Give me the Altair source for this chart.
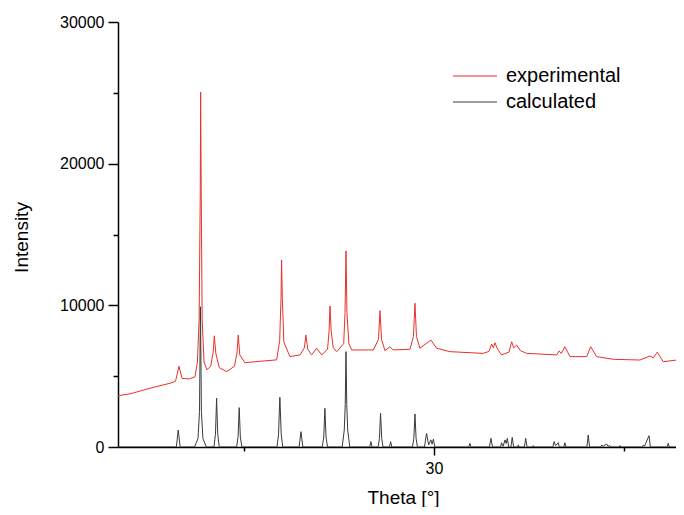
import altair as alt
import pandas as pd

# ---- experimental pattern (vertices) ----
exp_theta = [13.37, 14.0, 15.05, 16.11, 16.40, 16.58, 16.74, 17.10, 17.42, 17.55,
             17.64, 17.70, 17.72, 17.75, 17.80, 17.90, 18.05, 18.25, 18.38, 18.44,
             18.52, 18.70, 19.09, 19.50, 19.63, 19.70, 19.78, 20.05, 20.84, 21.72,
             21.88, 21.95, 21.98, 22.02, 22.10, 22.42, 22.95, 23.18, 23.26, 23.36,
             23.56, 23.83, 24.09, 24.40, 24.48, 24.53, 24.59, 24.70, 24.88, 25.25,
             25.32, 25.37, 25.42, 25.52, 25.67, 26.81, 27.08, 27.16, 27.24, 27.42,
             27.68, 27.85, 28.74, 28.92, 29.00, 29.08, 29.26, 29.84, 30.14, 30.84,
             32.59, 32.90, 33.04, 33.13, 33.21, 33.35, 33.56, 33.95, 34.09, 34.20,
             34.35, 34.55, 34.88, 36.46, 36.59, 36.70, 36.89, 37.16, 38.04, 38.25,
             38.56, 39.44, 40.84, 41.37, 41.55, 41.75, 42.07, 43.10]
exp_intensity = [3620, 3750, 4150, 4500, 4650, 5700, 4850, 4800, 4950, 6000,
                 9000, 18000, 25050, 18000, 9000, 6000, 5450, 5700, 6700, 7850,
                 6600, 5600, 5320, 5700, 6600, 7900, 6500, 5950, 6050, 6150,
                 7500, 10500, 13200, 10500, 7400, 6380, 6500, 7000, 7900, 6900,
                 6500, 6970, 6500, 6900, 8200, 9950, 8200, 7000, 6730, 7300,
                 9500, 13840, 9500, 7300, 6850, 6850, 7600, 9620, 7600, 6800,
                 7080, 6850, 6900, 7800, 10150, 7800, 6970, 7550, 6970, 6730,
                 6610, 6750, 7270, 7000, 7360, 6900, 6500, 6700, 7430, 7000,
                 7200, 6800, 6610, 6500, 6780, 6600, 7080, 6380, 6380, 7080,
                 6380, 6190, 6140, 6420, 6300, 6690, 6020, 6190]

# ---- calculated pattern (vertices) ----
calc_theta = [13.37,
              16.44, 16.54, 16.64,
              17.40, 17.58, 17.66, 17.71, 17.76, 17.84, 18.02,
              18.42, 18.50, 18.56, 18.62, 18.70,
              19.61, 19.69, 19.75, 19.81, 19.89,
              21.74, 21.82, 21.89, 21.96, 22.04,
              22.90, 23.00, 23.10,
              24.12, 24.20, 24.26, 24.32, 24.40,
              25.17, 25.28, 25.33, 25.37, 25.41, 25.46, 25.57,
              26.62, 26.68, 26.74,
              27.06, 27.13, 27.19, 27.25, 27.32,
              27.66, 27.72, 27.78,
              28.87, 28.94, 29.00, 29.06, 29.13,
              29.50, 29.61, 29.72, 29.84, 29.90, 29.97, 30.05,
              31.83, 31.89, 31.95,
              32.92, 33.00, 33.08,
              33.50, 33.56, 33.64, 33.74, 33.80, 33.86, 33.94,
              34.05, 34.12, 34.19,
              34.40, 34.44, 34.48,
              34.76, 34.83, 34.90,
              35.19, 35.23, 35.27,
              36.26, 36.32, 36.40, 36.54, 36.60,
              36.84, 36.89, 36.95,
              38.05, 38.12, 38.19,
              38.78, 38.83, 38.90, 39.09, 39.16, 39.26, 39.32,
              39.75, 39.79, 39.83,
              40.97, 41.02, 41.08, 41.32, 41.39,
              42.27, 42.33, 42.39,
              42.91, 42.95, 42.99,
              43.10]
calc_intensity = [0,
                  0, 1200, 0,
                  0, 600, 2500, 9900, 2500, 600, 0,
                  0, 900, 3440, 900, 0,
                  0, 700, 2780, 700, 0,
                  0, 900, 3510, 900, 0,
                  0, 1080, 0,
                  0, 700, 2730, 700, 0,
                  0, 1200, 3000, 6730, 3000, 1200, 0,
                  0, 380, 0,
                  0, 600, 2380, 600, 0,
                  0, 380, 0,
                  0, 600, 2330, 600, 0,
                  0, 970, 150, 500, 200, 550, 0,
                  0, 260, 0,
                  0, 610, 0,
                  0, 300, 50, 500, 250, 610, 0,
                  0, 680, 0,
                  0, 150, 0,
                  0, 610, 0,
                  0, 100, 0,
                  0, 380, 100, 300, 0,
                  0, 300, 0,
                  0, 850, 0,
                  0, 140, 50, 210, 50, 100, 0,
                  0, 100, 0,
                  0, 140, 50, 800, 0,
                  0, 260, 0,
                  0, 100, 0,
                  0]

series_names = ["experimental", "calculated"]
series_colors = ["#e8312b", "#3a3a3a"]

x_ticks = [20, 30, 40]
y_ticks = [0, 5000, 10000, 15000, 20000, 25000, 30000]

df = pd.concat([
    pd.DataFrame({"theta": exp_theta, "intensity": exp_intensity,
                  "series": series_names[0], "idx": range(len(exp_theta))}),
    pd.DataFrame({"theta": calc_theta, "intensity": calc_intensity,
                  "series": series_names[1], "idx": range(len(calc_theta))}),
])

FONT = "Liberation Sans"

chart = alt.Chart(df).mark_line(strokeWidth=1, clip=True).encode(
    x=alt.X("theta:Q",
            scale=alt.Scale(domain=[13.37, 42.74], nice=False, zero=False),
            axis=alt.Axis(title="Theta [°]", values=x_ticks,
                          labelExpr="datum.value == 30 ? '30' : ''",
                          tickSize={"condition": {"test": "datum.value == 30", "value": 8}, "value": 4},
                          labelPadding=5,
                          titleX=285, titleY=56, titleBaseline="alphabetic",
                          titleAlign="center")),
    y=alt.Y("intensity:Q",
            scale=alt.Scale(domain=[0, 30000], nice=False),
            axis=alt.Axis(title="Intensity", values=y_ticks,
                          labelExpr="datum.value % 10000 == 0 ? format(datum.value, 'd') : ''",
                          tickSize={"condition": {"test": "datum.value % 10000 == 0", "value": 10}, "value": 5},
                          labelPadding=4,
                          titleX=-91, titleY=215, titleBaseline="alphabetic",
                          titleAlign="center", titleAngle=270)),
    color=alt.Color("series:N",
                    scale=alt.Scale(domain=series_names, range=series_colors),
                    sort=series_names,
                    legend=alt.Legend(title=None, orient="none", legendX=347, legendY=44,
                                      symbolType="M-4,0L4,0", symbolSize=121,
                                      symbolStrokeWidth=1, labelOffset=21,
                                      labelFontSize=20, labelFont=FONT, labelColor="black",
                                      rowPadding=6, padding=0)),
    order="idx:Q",
    detail="series:N",
).properties(
    width=558, height=425, autosize="none",
    padding={"left": 110, "top": 14, "right": 0, "bottom": 60},
).configure_view(strokeWidth=0).configure_axis(
    grid=False, domainColor="black", domainWidth=1.5, tickColor="black", tickWidth=1.5,
    labelFont=FONT, labelFontSize=16, labelColor="black",
    titleFont=FONT, titleFontSize=19, titleFontWeight="normal", titleColor="black",
)

chart.save("out.html", embed_options={"renderer": "svg", "actions": False})
